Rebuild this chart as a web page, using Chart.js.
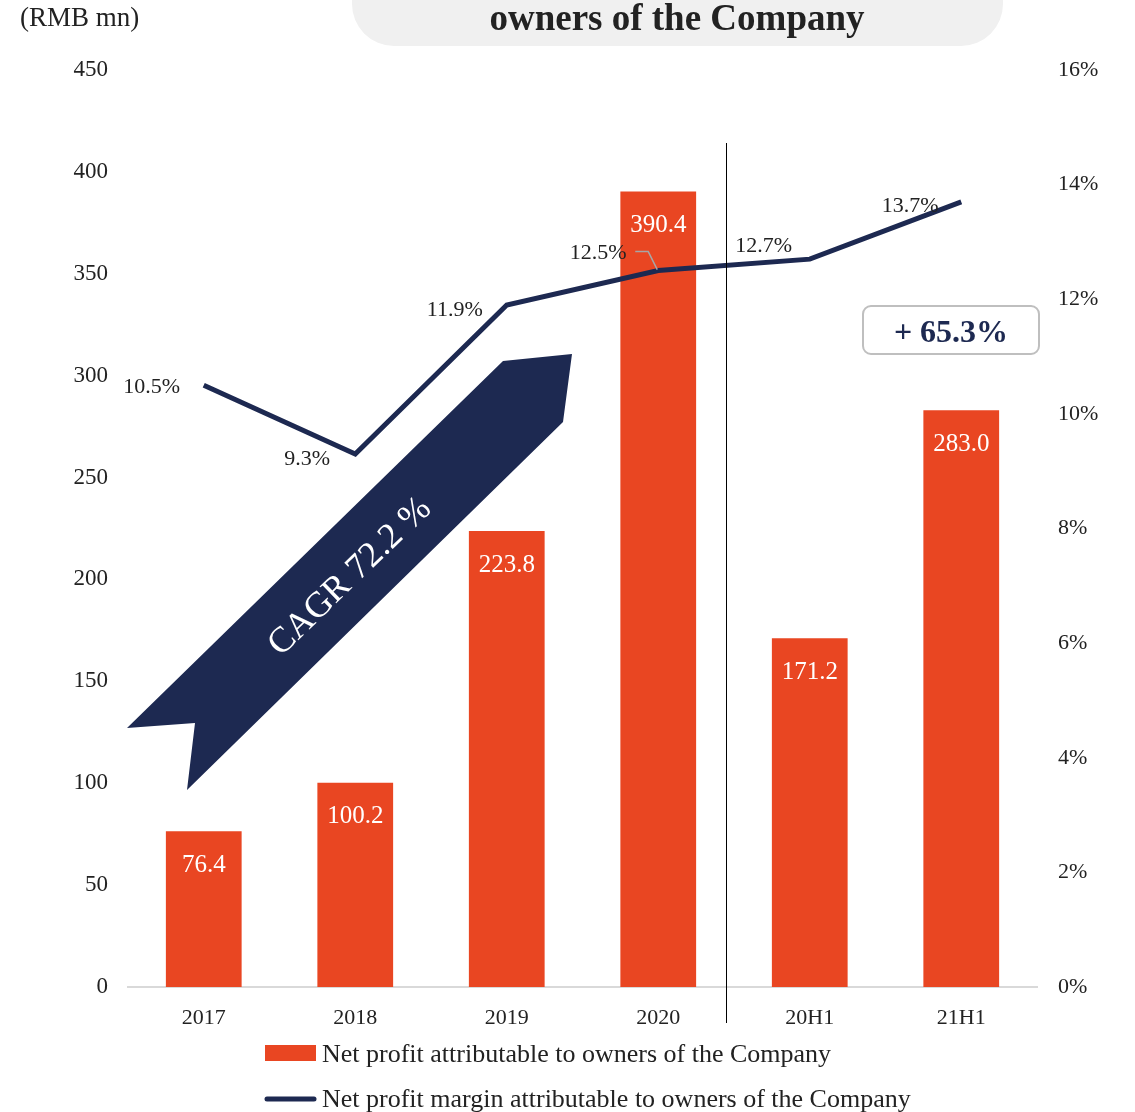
<!DOCTYPE html>
<html>
<head>
<meta charset="utf-8">
<script src="https://cdn.jsdelivr.net/npm/chart.js@4.4.0/dist/chart.umd.min.js"></script>
<style>
  html, body { margin: 0; padding: 0; background: #fff; }
  #wrap { width: 1135px; height: 1112px; position: relative; }
</style>
</head>
<body>
<div id="wrap"><canvas id="profit-chart"></canvas></div>
<script>
// periods and values
var periods = ["2017", "2018", "2019", "2020", "20H1", "21H1"];
var netProfit = [76.4, 100.2, 223.8, 390.4, 171.2, 283.0];
var netMargin = [10.5, 9.3, 11.9, 12.5, 12.7, 13.7];
var leftTicks = [0, 50, 100, 150, 200, 250, 300, 350, 400, 450];
var rightTicks = [0, 2, 4, 6, 8, 10, 12, 14, 16];

var ORANGE = "#E94622";
var NAVY = "#1D2951";
var SERIF = "'Liberation Serif', 'Times New Roman', serif";

// where each margin label sits relative to its point
var marginLabelOffsets = [
  { dx: -52, dy: 2 },
  { dx: -48, dy: 5 },
  { dx: -52, dy: 5 },
  { dx: -60, dy: -17 },
  { dx: -46, dy: -13 },
  { dx: -51, dy: 4 }
];

var decorPlugin = {
  id: "decor",
  beforeDraw: function (chart) {
    var c = chart.ctx;
    // header pill
    c.save();
    c.fillStyle = "#F0F0F0";
    c.beginPath();
    c.roundRect(352, -60, 651, 106, 42);
    c.fill();
    c.fillStyle = "#222";
    c.font = "bold 37px " + SERIF;
    c.textAlign = "center";
    c.textBaseline = "middle";
    c.fillText("owners of the Company", 677, 20);
    c.font = "27px " + SERIF;
    c.textAlign = "left";
    c.fillText("(RMB mn)", 20, 19);
    c.restore();
  },
  afterDatasetsDraw: function (chart) {
    var c = chart.ctx;
    var x = chart.scales.x;

    // separator between full years and half years
    var sepX = Math.round(x.getPixelForValue(3.45)) + 0.5;
    c.save();
    c.strokeStyle = "#000";
    c.lineWidth = 1;
    c.beginPath();
    c.moveTo(sepX, 143);
    c.lineTo(sepX, 1023);
    c.stroke();

    // CAGR ribbon
    c.fillStyle = NAVY;
    c.beginPath();
    c.moveTo(503, 361);
    c.lineTo(572, 354);
    c.lineTo(563, 422);
    c.lineTo(187, 790);
    c.lineTo(195, 723);
    c.lineTo(127, 728);
    c.closePath();
    c.fill();
    c.translate(350, 577);
    c.rotate(-44 * Math.PI / 180);
    c.fillStyle = "#fff";
    c.font = "36px " + SERIF;
    c.textAlign = "center";
    c.textBaseline = "middle";
    c.fillText("CAGR 72.2 %", 0, 0);
    c.restore();

    // bar value labels
    var barMeta = chart.getDatasetMeta(0);
    c.save();
    c.fillStyle = "#fff";
    c.font = "25px " + SERIF;
    c.textAlign = "center";
    c.textBaseline = "middle";
    barMeta.data.forEach(function (bar, i) {
      c.fillText(netProfit[i].toFixed(1), bar.x, bar.y + 34);
    });
    c.restore();

    // growth box
    c.save();
    c.fillStyle = "#fff";
    c.strokeStyle = "#BFBFBF";
    c.lineWidth = 2;
    c.beginPath();
    c.roundRect(863, 306, 176, 48, 8);
    c.fill();
    c.stroke();
    c.fillStyle = NAVY;
    c.font = "bold 32px " + SERIF;
    c.textAlign = "center";
    c.textBaseline = "middle";
    c.fillText("+ 65.3%", 951, 334);
    c.restore();
  },
  afterDraw: function (chart) {
    var c = chart.ctx;
    var lineMeta = chart.getDatasetMeta(1);

    // margin labels
    c.save();
    c.fillStyle = "#222";
    c.font = "22px " + SERIF;
    c.textAlign = "center";
    c.textBaseline = "middle";
    lineMeta.data.forEach(function (pt, i) {
      var o = marginLabelOffsets[i];
      c.fillText(netMargin[i].toFixed(1) + "%", pt.x + o.dx, pt.y + o.dy);
    });
    // leader for the 2020 label
    var p3 = lineMeta.data[3];
    c.strokeStyle = "#A6A6A6";
    c.lineWidth = 1.5;
    c.beginPath();
    c.moveTo(p3.x - 23, p3.y - 19);
    c.lineTo(p3.x - 10, p3.y - 19);
    c.lineTo(p3.x - 1, p3.y - 1);
    c.stroke();
    c.restore();

    // legend
    c.save();
    c.fillStyle = ORANGE;
    c.fillRect(265, 1045, 51, 16);
    c.strokeStyle = NAVY;
    c.lineWidth = 5;
    c.lineCap = "round";
    c.beginPath();
    c.moveTo(267, 1099);
    c.lineTo(314, 1099);
    c.stroke();
    c.fillStyle = "#222";
    c.font = "26px " + SERIF;
    c.textAlign = "left";
    c.textBaseline = "middle";
    c.fillText("Net profit attributable to owners of the Company", 322, 1055);
    c.fillText("Net profit margin attributable to owners of the Company", 322, 1100);
    c.restore();
  }
};

var ctx = document.getElementById("profit-chart").getContext("2d");

var chart = new Chart(ctx, {
  type: "bar",
  data: {
    labels: periods,
    datasets: [
      {
        label: "Net profit attributable to owners of the Company",
        data: netProfit,
        backgroundColor: ORANGE,
        borderWidth: 0,
        categoryPercentage: 1,
        barPercentage: 0.5,
        yAxisID: "y",
        order: 2
      },
      {
        type: "line",
        label: "Net profit margin attributable to owners of the Company",
        data: netMargin,
        borderColor: NAVY,
        borderWidth: 5,
        pointRadius: 0,
        tension: 0,
        fill: false,
        yAxisID: "y1",
        order: 1
      }
    ]
  },
  options: {
    responsive: true,
    maintainAspectRatio: false,
    animation: false,
    layout: { padding: { top: 70, left: 0, right: 0, bottom: 0 } },
    plugins: {
      legend: { display: false },
      tooltip: { enabled: false }
    },
    scales: {
      x: {
        grid: { display: false, drawTicks: false },
        border: { display: true, color: "#D9D9D9", width: 2 },
        ticks: {
          color: "#222",
          padding: 18,
          font: { size: 22, family: SERIF }
        },
        afterFit: function (scale) { scale.height = 125; }
      },
      y: {
        position: "left",
        min: 0,
        max: 450,
        afterBuildTicks: function (scale) {
          scale.ticks = leftTicks.map(function (v) { return { value: v }; });
        },
        grid: { display: false, drawTicks: false },
        border: { display: false },
        ticks: {
          color: "#222",
          padding: 20,
          font: { size: 23, family: SERIF }
        },
        afterFit: function (scale) { scale.width = 128; }
      },
      y1: {
        position: "right",
        min: 0,
        max: 16,
        afterBuildTicks: function (scale) {
          scale.ticks = rightTicks.map(function (v) { return { value: v }; });
        },
        grid: { display: false, drawTicks: false },
        border: { display: false },
        ticks: {
          color: "#222",
          padding: 21,
          font: { size: 22, family: SERIF },
          callback: function (v) { return v + "%"; }
        },
        afterFit: function (scale) { scale.width = 98; }
      }
    }
  },
  plugins: [decorPlugin]
});
</script>
</body>
</html>
